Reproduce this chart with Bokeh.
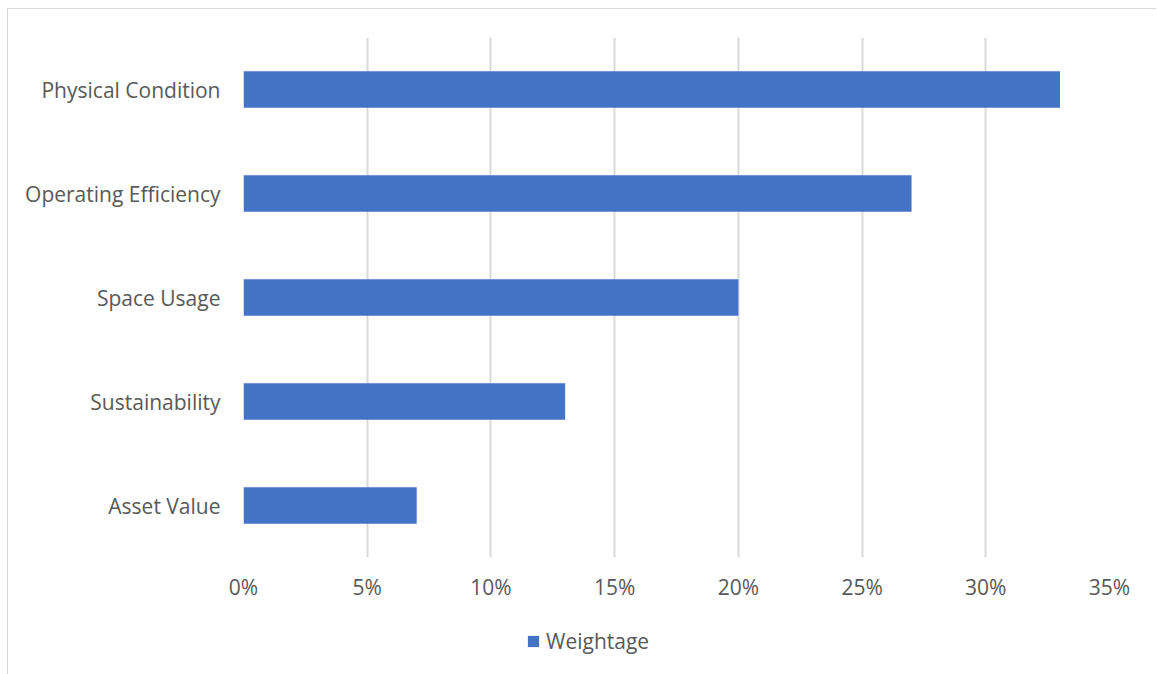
from bokeh.plotting import figure
from bokeh.layouts import column
from bokeh.models import (ColumnDataSource, FactorRange, Range1d, FixedTicker,
                          NumeralTickFormatter, Legend, LegendItem)
from bokeh.embed import file_html
from bokeh.resources import INLINE

# ---- data ----
categories = ["Asset Value", "Sustainability", "Space Usage",
              "Operating Efficiency", "Physical Condition"]
weightage = [0.07, 0.13, 0.20, 0.27, 0.33]
x_ticks = [0, 0.05, 0.10, 0.15, 0.20, 0.25, 0.30, 0.35]
series_name = "Weightage"

FONT = "Open Sans"
TXT = "#595959"
BAR = "#4472C4"

src = ColumnDataSource(dict(cat=categories, val=weightage))

p = figure(
    y_range=FactorRange(factors=categories, range_padding=0),
    x_range=Range1d(0, 0.35),
    frame_width=866, frame_height=520,
    min_border_left=235, min_border_top=28,
    min_border_right=47, min_border_bottom=70,
    output_backend="svg", toolbar_location=None, tools="",
)

r = p.hbar(y="cat", right="val", left=0, height=0.35, source=src,
           fill_color=BAR, line_color=None)

p.outline_line_color = None
p.background_fill_color = "white"
p.border_fill_color = "white"

p.ygrid.grid_line_color = None
p.xgrid.grid_line_color = "#d9d9d9"
p.xgrid.grid_line_width = 2
p.xaxis.ticker = FixedTicker(ticks=x_ticks)
p.xaxis.formatter = NumeralTickFormatter(format="0%")

for ax in (p.xaxis, p.yaxis):
    ax.axis_line_color = None
    ax.major_tick_line_color = None
    ax.minor_tick_line_color = None
    ax.major_tick_out = 0
    ax.major_tick_in = 0
    ax.major_label_text_font = FONT
    ax.major_label_text_font_size = "21px"
    ax.major_label_text_color = TXT

p.yaxis.major_label_standoff = 23
p.xaxis.major_label_standoff = 15

# ---- legend strip (separate small figure below the chart) ----
lg = figure(
    y_range=FactorRange(factors=categories), x_range=Range1d(-1, -0.5),
    width=1148, height=47, min_border=0,
    x_axis_location=None, y_axis_location=None,
    output_backend="svg", toolbar_location=None, tools="",
)
lg.outline_line_color = None
lg.xgrid.grid_line_color = None
lg.ygrid.grid_line_color = None
lg.background_fill_color = "white"
lg.border_fill_color = "white"
lr = lg.hbar(y="cat", right="val", left=0, height=0.35, source=src,
             fill_color=BAR, line_color=None)
lr.visible = False

legend = Legend(items=[LegendItem(label=series_name, renderers=[lr])],
                location=(283, 19), orientation="horizontal",
                glyph_width=14, glyph_height=14, padding=0, margin=0,
                label_standoff=6, border_line_color=None,
                background_fill_alpha=0, click_policy="none",
                label_text_font=FONT, label_text_font_size="21px",
                label_text_color=TXT)
lg.add_layout(legend, "center")

layout = column(p, lg, spacing=0)
layout.styles = {"margin-left": "7px", "margin-top": "8px",
                 "border-left": "1px solid #d9d9d9",
                 "border-top": "1px solid #d9d9d9"}

open("out.html", "w").write(file_html(layout, INLINE))
